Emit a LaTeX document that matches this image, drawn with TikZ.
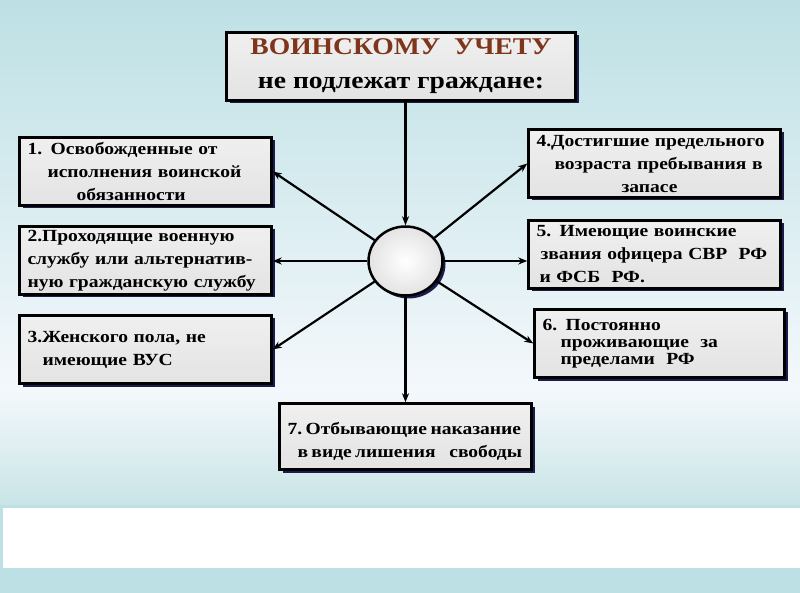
\documentclass[tikz,border=0pt]{standalone}
\usepackage{fontspec}
\setmainfont{Liberation Serif}[FakeStretch=1.15]
\usetikzlibrary{shadows, arrows.meta, shapes.geometric}
\usepackage{xcolor}
\definecolor{bgteal}{HTML}{BDE0E4}
\definecolor{bgwhite}{HTML}{F4F8FC}
\definecolor{bglow}{HTML}{C8E4E6}
\definecolor{shadowblue}{HTML}{1C1C4C}
\definecolor{titlebrown}{HTML}{7E3519}

\begin{document}
\begin{tikzpicture}[x=1pt,y=-1pt]
			\tikzstyle{box} = [rectangle,draw=black,line width=2.5pt,top color=gray!12,middle color=white,bottom color=gray!22,drop shadow={shadow xshift=3pt,shadow yshift=-3pt,fill=shadowblue,opacity=1},inner xsep=8pt,align=left,font=\bfseries\fontsize{17}{23}\selectfont]
			\tikzstyle{tight} = [execute at begin node={\frenchspacing\spaceskip=0.2em\relax}]
			\tikzstyle{hub} = [ellipse,draw=black,line width=2.5pt,inner color=white,outer color=gray!22,drop shadow={shadow xshift=3pt,shadow yshift=-3pt,fill=shadowblue,opacity=1}]
			\tikzstyle{edge} = [line width=2.2pt,-{Stealth[length=9pt,width=7pt]}]
			% background
			\fill[top color=bgteal,bottom color=bgwhite] (0,0) rectangle (800,390);
			\fill[top color=bgwhite,bottom color=bglow] (0,390) rectangle (800,506);
			\fill[bgteal] (0,505) rectangle (800,593);
			\fill[white] (3,508) rectangle (800,568);
			\useasboundingbox (0,0) rectangle (800,593);
			% nodes
			\node[box,minimum width=349pt,minimum height=68pt,align=center,font=\bfseries\fontsize{24}{35}\selectfont] (t) at (401,66.5) {\textcolor{titlebrown}{ВОИНСКОМУ\ \ УЧЕТУ}\\[-1pt]не подлежат граждане:};
			\node[hub,minimum width=74pt,minimum height=69pt] (c) at (405.5,261) {};
			\node[box,text width=236pt,minimum height=68pt] (b1) at (145.5,171.5) {1. Освобожденные от\\\hspace*{20pt}исполнения воинской\\\hspace*{49pt}обязанности};
			\node[box,text width=236pt,minimum height=68pt] (b2) at (145.5,260.5) {2.Проходящие военную\\службу или альтернатив-\\ную гражданскую службу};
			\node[box,text width=236pt,minimum height=68pt] (b3) at (145.5,349.5) {3.Женского пола, не\\\hspace*{15pt}имеющие ВУС};
			\node[box,text width=236pt,minimum height=68pt] (b4) at (654.5,163.5) {4.Достигшие предельного\\\hspace*{18pt}возраста пребывания в\\\hspace*{85pt}запасе};
			\node[box,text width=236pt,minimum height=68pt] (b5) at (654.5,254.5) {5. Имеющие воинские\\\hspace*{4pt}звания офицера СВР\ \ РФ\\\hspace*{3pt}и ФСБ\ \ РФ.};
			\node[box,text width=234pt,minimum height=68pt,font=\bfseries\fontsize{17}{17}\selectfont] (b6) at (659.5,343.5) {6. Постоянно\\\hspace*{18pt}проживающие\ \ за\\\hspace*{18pt}пределами\ \ РФ};
			\node[box,tight,text width=236pt,minimum height=66pt] (b7) at (405.5,436.5) {\rule{0pt}{22pt}\mbox{7. Отбывающие наказание}\\\hspace*{10pt}в виде лишения\ \ \ \ свободы};
			% connectors
			\draw[edge] (t.south -| c) -- (c);
			\draw[edge] (c) -- (b1.east);
			\draw[edge] (c) -- (c -| b2.east);
			\draw[edge] (c) -- (b3.east);
			\draw[edge] (c) -- (b4.west);
			\draw[edge] (c) -- (c -| b5.west);
			\draw[edge] (c) -- (b6.west);
			\draw[edge] (c) -- (c |- b7.north);
\end{tikzpicture}
\end{document}
